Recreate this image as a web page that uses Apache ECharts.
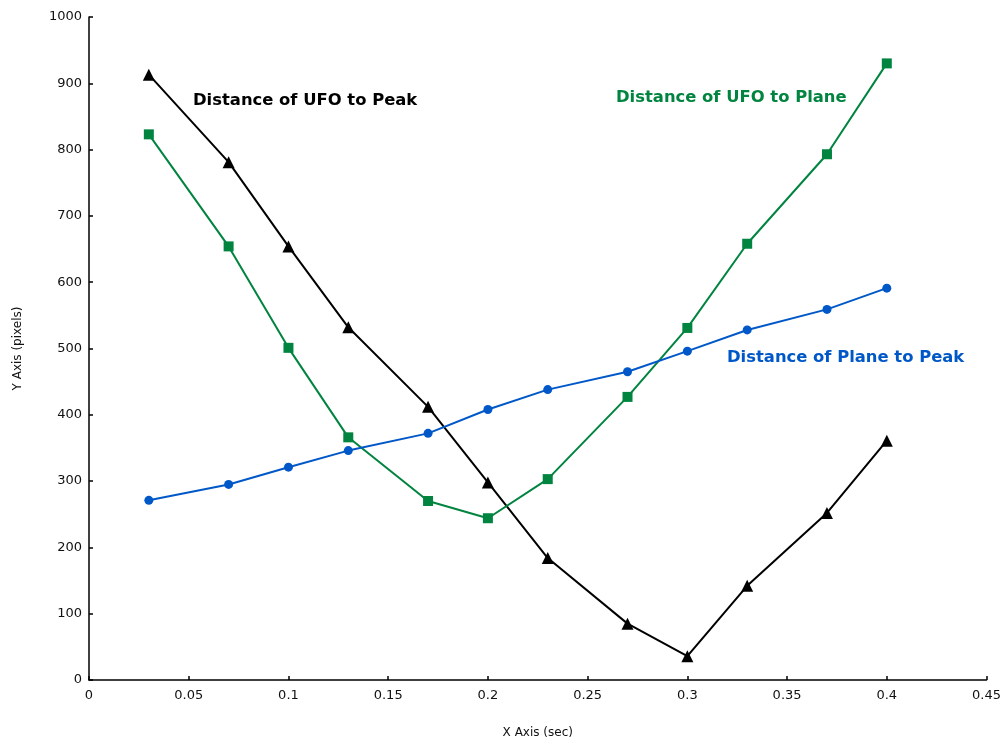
<!DOCTYPE html>
<html><head><meta charset="utf-8">
<script src="https://cdn.jsdelivr.net/npm/echarts@6/dist/echarts.min.js"></script>
<style>html,body{margin:0;padding:0;background:#fff}#c{width:1004px;height:744px}</style>
</head><body><div id="c"></div>
<script>
const xValues = [0.03, 0.07, 0.1, 0.13, 0.17, 0.2, 0.23, 0.27, 0.3, 0.33, 0.37, 0.4];
const ufoToPeak = [913, 781, 654, 532, 412, 298, 184, 85, 36, 142, 252, 361];
const ufoToPlane = [823, 654, 501, 366, 270, 244, 303, 427, 531, 658, 793, 930];
const planeToPeak = [271, 295, 321, 346, 372, 408, 438, 465, 496, 528, 559, 591];
const seriesNames = ['Distance of UFO to Peak', 'Distance of UFO to Plane', 'Distance of Plane to Peak'];

const BLACK = '#000000', GREEN = '#00843f', BLUE = '#0058c8';
const pairs = v => xValues.map((x, i) => [x, v[i]]);
const chart = echarts.init(document.getElementById('c'), null, {renderer: 'canvas'});
const axisCommon = {
  axisLine: {show: true, lineStyle: {color: '#000', width: 1.5}},
  axisTick: {show: true, inside: true, length: 4, lineStyle: {color: '#000', width: 1.5}},
  splitLine: {show: false},
  axisLabel: {color: '#111', fontFamily: 'DejaVu Sans', fontSize: 13, formatter: v => String(v)},
  nameTextStyle: {color: '#111', fontFamily: 'DejaVu Sans', fontSize: 12}
};
chart.setOption({
  animation: false,
  backgroundColor: '#fff',
  grid: {left: 89, right: 16, top: 17, bottom: 60},
  xAxis: Object.assign({}, axisCommon, {
    type: 'value', min: 0, max: 0.45, interval: 0.05,
    name: 'X Axis (sec)', nameLocation: 'middle', nameGap: 47,
    axisLabel: Object.assign({}, axisCommon.axisLabel, {margin: 9})
  }),
  yAxis: Object.assign({}, axisCommon, {
    type: 'value', min: 0, max: 1000, interval: 100,
    name: 'Y Axis (pixels)', nameLocation: 'middle', nameGap: 65,
    axisLabel: Object.assign({}, axisCommon.axisLabel, {margin: 7})
  }),
  series: [
    {name: seriesNames[0], type: 'line', data: pairs(ufoToPeak), symbol: 'triangle', symbolSize: 12,
     itemStyle: {color: BLACK}, lineStyle: {color: BLACK, width: 2}},
    {name: seriesNames[1], type: 'line', data: pairs(ufoToPlane), symbol: 'rect', symbolSize: 10,
     itemStyle: {color: GREEN}, lineStyle: {color: GREEN, width: 2}},
    {name: seriesNames[2], type: 'line', data: pairs(planeToPeak), symbol: 'circle', symbolSize: 9,
     itemStyle: {color: BLUE}, lineStyle: {color: BLUE, width: 2}}
  ],
  graphic: [
    {type: 'text', left: 193, top: 93, style: {text: seriesNames[0], fill: BLACK, font: 'bold 16.4px "DejaVu Sans"'}},
    {type: 'text', left: 616, top: 90, style: {text: seriesNames[1], fill: GREEN, font: 'bold 16.4px "DejaVu Sans"'}},
    {type: 'text', left: 727, top: 350, style: {text: seriesNames[2], fill: BLUE, font: 'bold 16.4px "DejaVu Sans"'}}
  ]
});
</script></body></html>
